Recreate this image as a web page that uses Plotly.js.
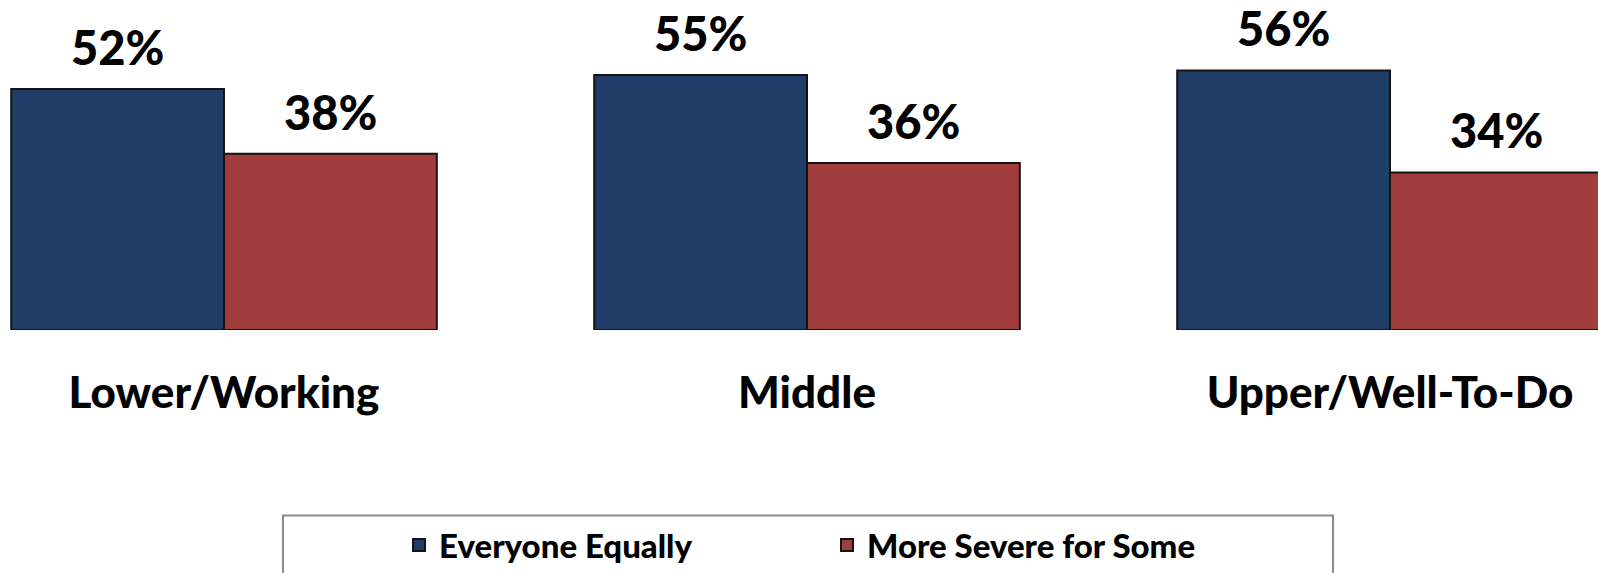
<!DOCTYPE html>
<html>
<head>
<meta charset="utf-8">
<script src="https://cdn.plot.ly/plotly-3.0.1.min.js"></script>
<style>
html,body{margin:0;padding:0;background:#fff;}
#chart{width:1598px;height:573px;}
</style>
</head>
<body>
<div id="chart"></div>
<script>
const categories = ["Lower/Working", "Middle", "Upper/Well-To-Do"];
const seriesNames = ["Everyone Equally", "More Severe for Some"];
const everyoneEqually = [52, 55, 56];
const moreSevereForSome = [38, 36, 34];
const seriesValues = [everyoneEqually, moreSevereForSome];
const seriesColors = ["#1F3D66", "#A23D3D"];

const FONT = "Lato, 'Open Sans', sans-serif";
const W = 1598, H = 573;
const marginB = 242;
const plotH = H - marginB;
const bargap = 0.27;

const traces = seriesValues.map((vals, i) => ({
  type: "bar",
  name: seriesNames[i],
  x: categories,
  y: vals,
  marker: {color: seriesColors[i], line: {color: "#141414", width: 2}},
  hoverinfo: "x+y+name"
}));

// x range: category slot = 583 px, first centre at 224 px
const slot = 583, firstCentre = 224;
const xRange = [-firstCentre / slot, (W - firstCentre) / slot];
const pxPerPct = 4.65;
const yRange = [0, plotH / pxPerPct];

// value labels above bars
const halfBar = (1 - bargap) / 4 * slot;
const annotations = [];
seriesValues.forEach((vals, i) => {
  vals.forEach((v, j) => {
    annotations.push({
      x: categories[j], y: v, xref: "x", yref: "y",
      text: v + "%", showarrow: false,
      xanchor: "center", yanchor: "bottom",
      xshift: (i === 0 ? -1 : 1) * halfBar, yshift: 12,
      font: {family: FONT, size: 47, color: "#000", weight: 900}
    });
  });
});

const layout = {
  width: W, height: H,
  margin: {l: 0, r: 0, t: 0, b: marginB, pad: 0},
  paper_bgcolor: "#fff", plot_bgcolor: "#fff",
  barmode: "group", bargap: bargap, bargroupgap: 0,
  showlegend: true,
  xaxis: {
    type: "category", range: xRange, showgrid: false, zeroline: false,
    showline: false, ticks: "", ticklabelstandoff: 33,
    tickfont: {family: FONT, size: 44, color: "#000", weight: 900},
    fixedrange: true
  },
  yaxis: {
    range: yRange, visible: false, showgrid: false, zeroline: false, fixedrange: true
  },
  legend: {
    orientation: "h", x: 399 / W, xanchor: "left",
    y: (plotH - 547) / plotH, yanchor: "middle",
    entrywidth: 383, entrywidthmode: "pixels",
    font: {family: FONT, size: 33, color: "#000", weight: 900},
    bgcolor: "rgba(0,0,0,0)", borderwidth: 0
  },
  shapes: [{
    type: "rect", xref: "paper", yref: "paper",
    x0: 283 / W, x1: 1333 / W,
    y0: (plotH - 517) / plotH, y1: (plotH - 590) / plotH,
    line: {color: "#8a8a8a", width: 2}, fillcolor: "rgba(0,0,0,0)", layer: "below"
  }],
  annotations: annotations
};

Plotly.newPlot("chart", traces, layout, {displayModeBar: false, staticPlot: true});
</script>
</body>
</html>
